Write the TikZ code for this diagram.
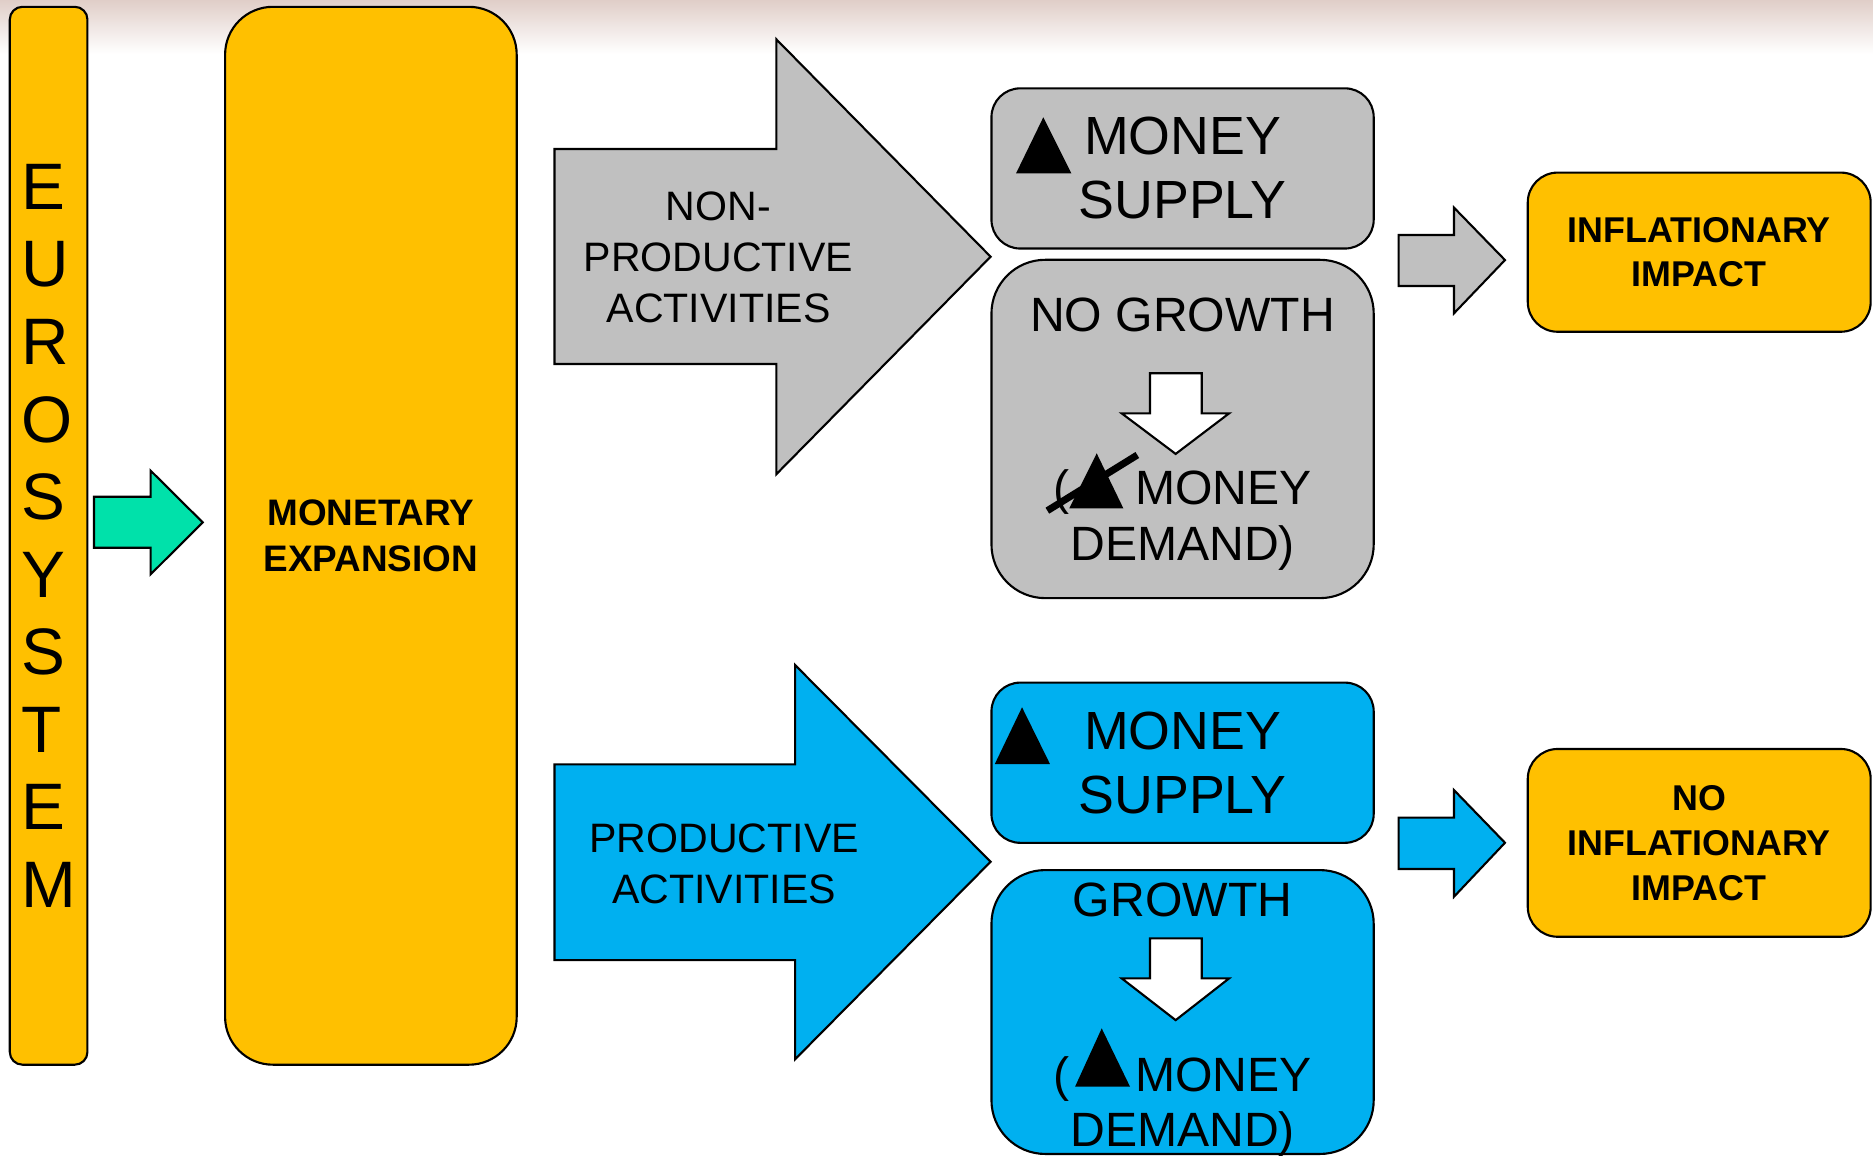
\documentclass[tikz,border=0pt]{standalone}
\usepackage{fontspec}
\setmainfont{Liberation Sans}
\usepackage{xcolor}
\usepackage{tikz}
\usetikzlibrary{positioning}
\definecolor{ecbyellow}{HTML}{FFC000}
\definecolor{ecbgray}{HTML}{C0C0C0}
\definecolor{ecbblue}{HTML}{00B0F0}
\definecolor{ecbgreen}{HTML}{00E1AA}
\definecolor{slidetop}{RGB}{224,206,200}

\begin{document}
\begin{tikzpicture}[x=0.34pt,y=-0.34pt,line width=0.6pt,
  box/.style={draw,rounded corners=#1,inner sep=0pt,align=center},
  blk/.style={draw,fill=#1,line join=miter},
  txt/.style={inner sep=0pt,align=center}]
\clip (0,0) rectangle (1568,968);
\shade[top color=slidetop,bottom color=white] (0,0) rectangle (1568,45);
\def\greenarrow{(78.7,415.8) -- (126.1,415.8) -- (126.1,394) -- (169.7,437.3) -- (126.1,480.8) -- (126.1,458.5) -- (78.7,458.5) -- cycle}
  \def\grayblock{(464.2,124.7) -- (649.9,124.7) -- (649.9,32.9) -- (829.3,214.9) -- (649.9,397) -- (649.9,304.7) -- (464.2,304.7) -- cycle}
  \def\blueblock{(464.2,639.9) -- (665.6,639.9) -- (665.6,556.7) -- (829.3,721.4) -- (665.6,886.8) -- (665.6,803.7) -- (464.2,803.7) -- cycle}
  \def\grayto{(1170.9,196.7) -- (1217.2,196.7) -- (1217.2,173.8) -- (1259.9,217.7) -- (1217.2,262.3) -- (1217.2,239.4) -- (1170.9,239.4) -- cycle}
  \def\blueto{(1170.9,684.5) -- (1217.2,684.5) -- (1217.2,661.4) -- (1259.9,705.5) -- (1217.2,750.7) -- (1217.2,727.5) -- (1170.9,727.5) -- cycle}
  \def\downtop{(962.7,312.5) -- (1006,312.5) -- (1006,346) -- (1029,346) -- (984.2,380) -- (939,346) -- (962.7,346) -- cycle}
  \def\downbot{(962.7,785.5) -- (1006,785.5) -- (1006,819) -- (1029,819) -- (984.2,854) -- (939,819) -- (962.7,819) -- cycle}
      \node[box=3.6pt,fill=ecbyellow,minimum width=22.1pt,minimum height=301.1pt,align=left,
        font={\fontsize{18.7}{22.07}\selectfont}] (eurosys) at (40.7,448.5) {E\\U\\R\\O\\S\\Y\\S\\T\\E\\M};
      \draw[blk=ecbgreen] \greenarrow;
      \node[box=13.6pt,fill=ecbyellow,minimum width=83pt,minimum height=301.1pt,
        font={\bfseries\fontsize{10.5}{13.2}\selectfont}] (monexp) at (310.5,448.5) {MONETARY\\EXPANSION};
      \draw[blk=ecbgray] \grayblock;
      \node[txt,font={\fontsize{11.7}{14.5}\selectfont}] (nonprod) at (601.5,215.8) {NON-\\PRODUCTIVE\\ACTIVITIES};
      \draw[blk=ecbblue] \blueblock;
      \node[txt,font={\fontsize{11.7}{14.6}\selectfont}] (prod) at (606.2,723) {PRODUCTIVE\\ACTIVITIES};
      \begin{scope}[font={\fontsize{15.3}{18.2}\selectfont}]
      \node[box=8.2pt,fill=ecbgray,minimum width=108.8pt,minimum height=45.6pt] (supplytop) at (990,141) {MONEY\\SUPPLY};
      \node[box=8.2pt,fill=ecbblue,minimum width=108.8pt,minimum height=45.6pt] (supplybot) at (990,638.5) {MONEY\\SUPPLY};
      \end{scope}
      \fill (873.4,98.2) -- (850.6,145.1) -- (896.9,145.1) -- cycle;
      \fill (855.6,592.1) -- (832.8,639.6) -- (879,639.6) -- cycle;
      \node[box=15.3pt,fill=ecbgray,minimum width=108.8pt,minimum height=96.3pt] (nogrowth) at (990,359.1) {};
      \node[box=15.3pt,fill=ecbblue,minimum width=108.8pt,minimum height=80.8pt] (growth) at (990,847.2) {};
      \begin{scope}[font={\fontsize{13.7}{15.8}\selectfont}]
      \node[txt,anchor=base] (nogrowthtxt) at (990,277.7) {NO GROWTH};
      \node[txt,anchor=base] (growthtxt) at (990,767.4) {GROWTH};
      \draw[blk=white] \downtop;
      \draw[blk=white] \downbot;
      \node[txt] (demandtop) at (990,435.5) {(\hspace{18.8pt}MONEY\\DEMAND)};
      \node[txt] (demandbot) at (990,926.2) {(\hspace{18.8pt}MONEY\\DEMAND)};
      \end{scope}
      \fill (918.1,379.5) -- (895.2,425.5) -- (940.4,425.5) -- cycle;
      \draw[line width=2pt] (876.8,427.5) -- (952.1,380.9);
      \fill (922.3,860.9) -- (900,909.7) -- (946,909.7) -- cycle;
      \draw[blk=ecbgray] \grayto;
      \draw[blk=ecbblue] \blueto;
      \begin{scope}[font={\bfseries\fontsize{10.2}{12.8}\selectfont}]
      \node[box=8.5pt,fill=ecbyellow,minimum width=97.6pt,minimum height=45.3pt] (inflation) at (1422.5,211.1) {INFLATIONARY\\IMPACT};
      \node[box=8.5pt,fill=ecbyellow,minimum width=97.6pt,minimum height=53.45pt] (noinflation) at (1422.5,705.6) {NO\\INFLATIONARY\\IMPACT};
      \end{scope}
\end{tikzpicture}
\end{document}
